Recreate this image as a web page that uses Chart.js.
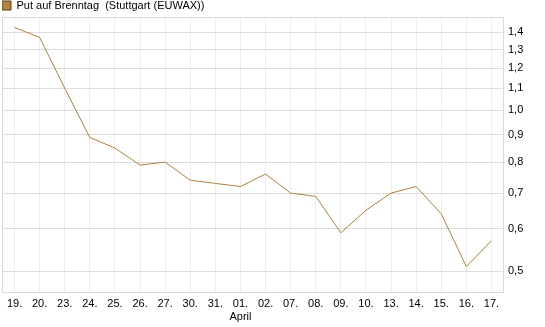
<!DOCTYPE html>
<html>
<head>
<meta charset="utf-8">
<script src="https://cdn.jsdelivr.net/npm/chart.js@4/dist/chart.umd.min.js"></script>
<style>
  html, body { margin: 0; padding: 0; background: #fff; }
  #wrap { position: relative; width: 545px; height: 327px; }
</style>
</head>
<body>
<div id="wrap"><canvas id="c" width="545" height="327"></canvas></div>
<script>
const categories = ['19.', '20.', '23.', '24.', '25.', '26.', '27.', '30.', '31.', ['01.', 'April'], '02.', '07.', '08.', '09.', '10.', '13.', '14.', '15.', '16.', '17.'];
const values = [1.43, 1.37, 1.10, 0.89, 0.85, 0.79, 0.80, 0.74, 0.73, 0.72, 0.76, 0.70, 0.69, 0.59, 0.65, 0.70, 0.72, 0.64, 0.51, 0.57];
const yTicks = [0.5, 0.6, 0.7, 0.8, 0.9, 1.0, 1.1, 1.2, 1.3, 1.4];
const seriesName = 'Put auf Brenntag  (Stuttgart (EUWAX))';

const FONT = { family: '"Liberation Sans", Arial, sans-serif', size: 11 };

const frame = {
  id: 'frame',
  beforeInit(chart) {
    const lg = chart.legend;
    if (lg) {
      const orig = lg.fit.bind(lg);
      lg.fit = function () { orig(); this.height = 17; };
    }
  },
  afterDraw(chart) {
    const a = chart.chartArea, ctx = chart.ctx;
    ctx.save();
    ctx.strokeStyle = '#d9d9d9';
    ctx.lineWidth = 1;
    ctx.strokeRect(Math.round(a.left) + 0.5, Math.round(a.top) + 0.5, Math.round(a.right - a.left) - 1, Math.round(a.bottom - a.top) - 1);
    ctx.restore();
  }
};

new Chart(document.getElementById('c'), {
  type: 'line',
  data: {
    labels: categories,
    datasets: [{
      label: seriesName,
      data: values,
      borderColor: '#b0823e',
      backgroundColor: '#b5853f',
      borderWidth: 1,
      pointRadius: 0,
      tension: 0,
      fill: false
    }]
  },
  options: {
    responsive: false,
    animation: false,
    layout: { padding: { left: 2, right: 0, top: 0, bottom: 0 } },
    plugins: {
      legend: {
        display: true,
        position: 'top',
        align: 'start',
        labels: {
          boxWidth: 9,
          boxHeight: 9,
          padding: 0,
          color: '#000',
          font: FONT,
          generateLabels(chart) {
            return [{
              text: seriesName,
              fillStyle: '#b5853f',
              strokeStyle: '#5a3f1a',
              lineWidth: 1,
              datasetIndex: 0,
              fontColor: '#000'
            }];
          }
        }
      },
      tooltip: { enabled: false }
    },
    scales: {
      x: {
        type: 'category',
        offset: true,
        grid: { color: '#eeeeee', offset: false, drawTicks: false },
        border: { display: false },
        ticks: { color: '#000', font: FONT, padding: 4, maxRotation: 0, autoSkip: false },
        afterFit(s) { s.height = 34; }
      },
      y: {
        type: 'logarithmic',
        position: 'right',
        min: 0.455,
        max: 1.496,
        afterBuildTicks(s) { s.ticks = yTicks.map(v => ({ value: v })); },
        grid: { color: '#dddddd', drawTicks: false },
        border: { display: false },
        ticks: {
          color: '#000',
          font: FONT,
          padding: 4,
          callback: (v) => Number(v).toFixed(1).replace('.', ',')
        },
        afterFit(s) { s.width = 41; }
      }
    }
  },
  plugins: [frame]
});
</script>
</body>
</html>
